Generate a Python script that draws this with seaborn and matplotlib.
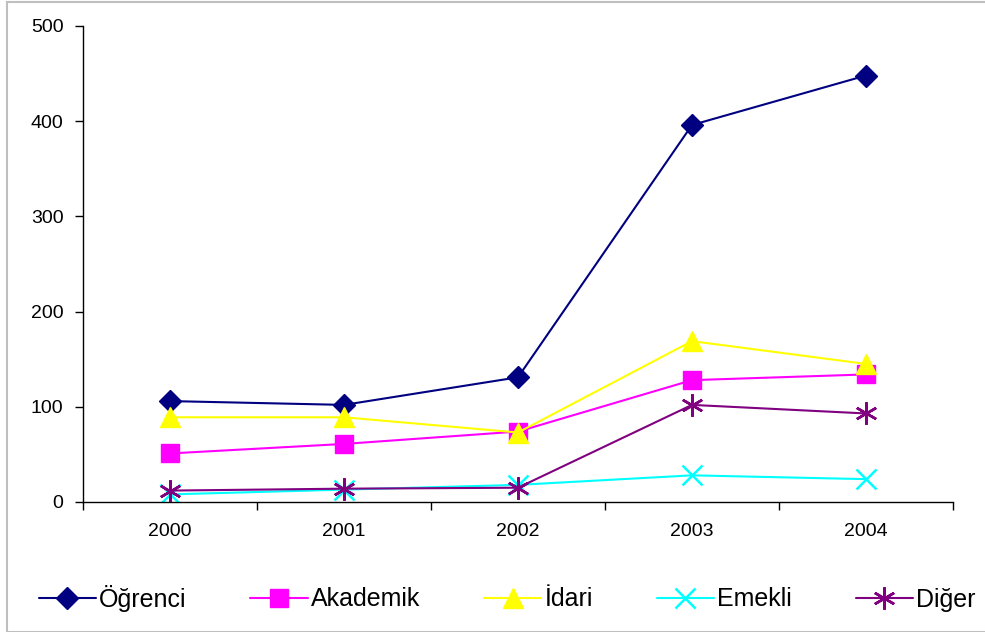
import matplotlib
matplotlib.use("Agg")
import matplotlib.pyplot as plt
import seaborn as sns
import pandas as pd
from matplotlib.patches import Rectangle

years = ["2000", "2001", "2002", "2003", "2004"]
ogrenci = [106, 102, 131, 396, 448]
akademik = [51, 61, 74, 128, 134]
idari = [89, 89, 73, 169, 145]
emekli = [8, 13, 18, 28, 24]
diger = [12, 14, 15, 102, 93]

series_names = ["Öğrenci", "Akademik", "İdari", "Emekli", "Diğer"]
series_vals = [ogrenci, akademik, idari, emekli, diger]
colors = ["#000080", "#FF00FF", "#FFFF00", "#00FFFF", "#800080"]
markers = ["D", "s", "^", "x", (6, 2, 0)]
msizes = [11, 13, 15, 14, 16]

sns.set_style("white")
plt.rcParams['font.family'] = ['Liberation Sans', 'DejaVu Sans']
plt.rcParams['text.color'] = 'black'
plt.rcParams['xtick.color'] = 'black'
plt.rcParams['ytick.color'] = 'black'
plt.rcParams['axes.labelcolor'] = 'black'

fig = plt.figure(figsize=(9.85, 6.32), dpi=100)
ax = fig.add_axes([83/985, 1-502/632, (953-83)/985, (502-26)/632])

rows = []
for name, vals in zip(series_names, series_vals):
    for i, v in enumerate(vals):
        rows.append({"x": i, "year": years[i], "value": v, "series": name})
df = pd.DataFrame(rows)

for name, c, m, ms in zip(series_names, colors, markers, msizes):
    sub = df[df["series"] == name]
    mew = 1.8 if m in ("x",) or isinstance(m, tuple) else 1
    sns.lineplot(data=sub, x="x", y="value", ax=ax, color=c, marker=m,
                 markersize=ms, markeredgecolor=c, markerfacecolor=c,
                 markeredgewidth=mew, linewidth=1.5, label=name)

ax.set_xlim(-0.5, 4.5)
ax.set_ylim(0, 500)
ax.set_yticks([0, 100, 200, 300, 400, 500])
ax.set_xticks(range(5))
ax.set_xticklabels(years)
ax.set_xticks([i + 0.5 for i in range(-1, 5)], minor=True)
ax.tick_params(axis="x", which="major", length=0, pad=15, labelsize=14, labelcolor="black")
ax.tick_params(axis="x", which="minor", length=6, width=1, color="black", direction="out", bottom=True)
ax.tick_params(axis="y", which="major", length=6, width=1, color="black", direction="out", left=True, labelsize=14, pad=8, labelcolor="black")
ax.set_xlabel("")
ax.set_ylabel("")
for s in ["top", "right"]:
    ax.spines[s].set_visible(False)
for s in ["left", "bottom"]:
    ax.spines[s].set_color("black")
    ax.spines[s].set_linewidth(1)

leg = ax.legend(loc="center", bbox_to_anchor=(507/985, (632-598)/632), bbox_transform=fig.transFigure,
                ncol=5, frameon=False, fontsize=18, handlelength=2.3, handletextpad=0.12,
                columnspacing=2.55, borderaxespad=0)
for t in leg.get_texts():
    t.set_color("black")

fig.patches.append(Rectangle((7/985, 0), 1, 1 - 2/632, transform=fig.transFigure,
                             fill=False, edgecolor="#BFBFBF", linewidth=1.5))

fig.savefig("out.png", dpi=100)
